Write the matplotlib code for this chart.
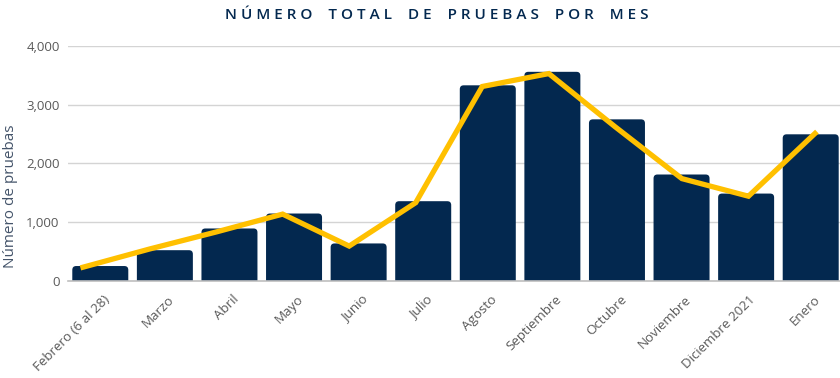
import numpy as np
import matplotlib.pyplot as plt
import matplotlib.transforms as mtransforms
from matplotlib.patches import FancyBboxPatch
from matplotlib.ticker import FuncFormatter

# datos
meses = ["Febrero (6 al 28)", "Marzo", "Abril", "Mayo", "Junio", "Julio",
         "Agosto", "Septiembre", "Octubre", "Noviembre", "Diciembre 2021", "Enero"]
pruebas = [250, 520, 890, 1145, 635, 1355, 3330, 3560, 2750, 1810, 1485, 2495]
tendencia = [230, 540, 830, 1135, 590, 1330, 3310, 3530, 2620, 1740, 1440, 2510]
titulo = "NÚMERO TOTAL DE PRUEBAS POR MES"

navy = "#03284f"
amarillo = "#ffc000"
gris = "#595959"

plt.rcParams['font.family'] = ['Open Sans', 'DejaVu Sans']

W, H = 840, 378
fig = plt.figure(figsize=(W / 100, H / 100), dpi=100)
ax = fig.add_axes([68 / W, 1 - 280.7 / H, 775 / W, 234.7 / H])

n = len(meses)
ax.set_xlim(-0.5, n - 0.5)
ax.set_ylim(0, 4000)

x = np.arange(n)
bars = ax.bar(x, pruebas, width=0.867, color=navy, zorder=2)
# esquinas superiores redondeadas
aspect = (4000 / 234.7) / (n / 775)
for b in bars:
    b.set_visible(False)
    p = FancyBboxPatch((b.get_x(), -200), b.get_width(), b.get_height() + 200,
                       boxstyle="round,pad=0,rounding_size=0.06",
                       mutation_aspect=aspect, fc=navy, ec='none', zorder=2)
    ax.add_patch(p)

ax.set_yticks([0, 1000, 2000, 3000, 4000])
ax.yaxis.set_major_formatter(FuncFormatter(lambda v, p: f"{int(v):,}"))
ax.grid(axis='y', color='#d4d4d4', lw=1, zorder=0)
ax.set_axisbelow(True)

for s in ['top', 'right', 'left']:
    ax.spines[s].set_visible(False)
ax.spines['bottom'].set_color('#bfbfbf')
ax.spines['bottom'].set_linewidth(1.2)
ax.spines['bottom'].set_zorder(4)

# la línea va en su propio eje x (un poco más ancho que las barras)
ax2 = ax.twiny()
ax2.set_xlim(-15 / 66.55, 11 + 28 / 66.55)
ax2.plot(x, tendencia, color=amarillo, lw=3.8, solid_joinstyle='miter', zorder=3)
ax2.set_xticks([])
for s in ax2.spines.values():
    s.set_visible(False)

# etiquetas del eje x
ax.set_xticks(x)
ax.set_xticklabels([])
ax.tick_params(axis='x', length=0)
offset = mtransforms.ScaledTranslation(3 / 100, -12 / 100, fig.dpi_scale_trans)
for xi, m in zip(x, meses):
    ax.text(xi, 0, m, transform=ax.get_xaxis_transform() + offset,
            rotation=45, ha='right', va='top', rotation_mode='anchor',
            fontsize=9.6, color=gris)
ax.tick_params(axis='y', length=0, pad=6, labelsize=9.5, labelcolor=gris)

ax.set_ylabel("Número de pruebas", fontsize=11, color="#44546a")
ax.yaxis.set_label_coords(-0.065, 0.36)

fig.text(0.52, 1 - 15 / H, " ".join(titulo).replace("   ", "    "),
         ha='center', va='center', fontsize=11, color=navy, fontweight=600,
         family=['Open Sans', 'DejaVu Sans'])

fig.savefig("out.png", dpi=100)
